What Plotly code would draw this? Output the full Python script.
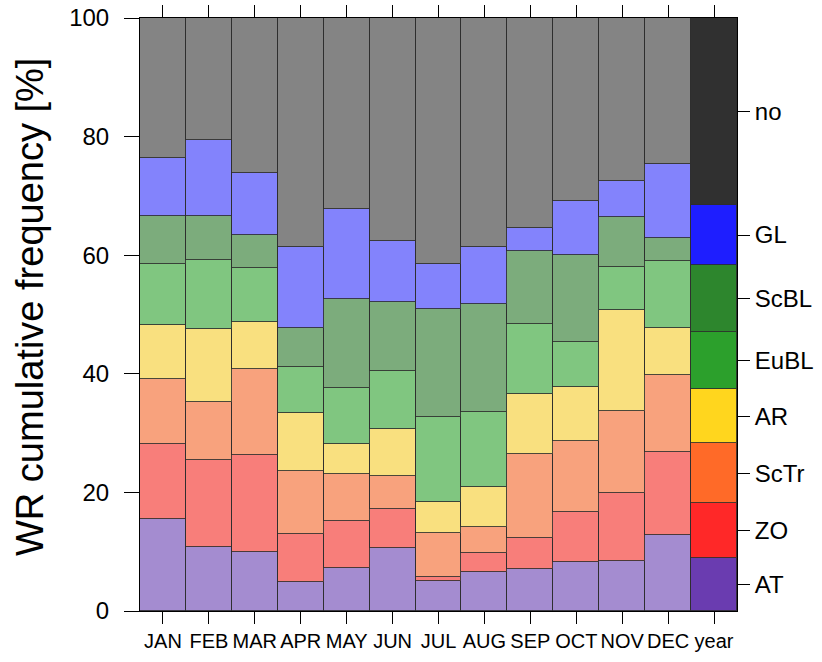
import plotly.graph_objects as go

categories = ["JAN", "FEB", "MAR", "APR", "MAY", "JUN", "JUL", "AUG", "SEP", "OCT", "NOV", "DEC", "year"]

# Frequencies [%] per weather regime (stacked from bottom to top)
AT   = [15.5, 10.8, 10.0, 4.9, 7.3, 10.6, 5.0, 6.6, 7.1, 8.3, 8.4, 12.8, 8.9]
ZO   = [12.7, 14.7, 16.3, 8.1, 7.9, 6.6, 0.8, 3.2, 5.2, 8.4, 11.5, 14.0, 9.3]
ScTr = [10.9, 9.7, 14.5, 10.6, 7.9, 5.6, 7.4, 4.4, 14.2, 12.0, 13.8, 13.0, 10.1]
AR   = [9.1, 12.4, 7.9, 9.8, 5.1, 7.9, 5.2, 6.7, 10.1, 9.1, 17.1, 7.9, 9.1]
EuBL = [10.3, 11.6, 9.2, 7.7, 9.4, 9.8, 14.3, 12.7, 11.8, 7.6, 7.2, 11.3, 9.7]
ScBL = [8.1, 7.4, 5.5, 6.6, 15.0, 11.6, 18.3, 18.2, 12.3, 14.6, 8.4, 3.9, 11.2]
GL   = [9.8, 12.8, 10.5, 13.7, 15.2, 10.3, 7.5, 9.6, 3.9, 9.1, 6.1, 12.5, 10.2]
NO   = [23.6, 20.6, 26.1, 38.6, 32.2, 37.6, 41.5, 38.6, 35.4, 30.9, 27.5, 24.6, 31.5]

regime_names = ["AT", "ZO", "ScTr", "AR", "EuBL", "ScBL", "GL", "no"]
regime_values = [AT, ZO, ScTr, AR, EuBL, ScBL, GL, NO]
month_colors = ["#A48CD0", "#F87E7A", "#F8A27D", "#F9E07F", "#80C680", "#7CAC7C", "#8383FC", "#848484"]
year_colors  = ["#6A3CB0", "#FF2828", "#FF6A28", "#FFD61E", "#2CA02C", "#2D862D", "#1E1EFF", "#303030"]

FONT = "Liberation Sans, Arial, sans-serif"

fig = go.Figure()
for name, vals, mc, yc in zip(regime_names, regime_values, month_colors, year_colors):
    colors = [mc] * (len(categories) - 1) + [yc]
    fig.add_trace(go.Bar(
        x=categories, y=vals, name=name,
        marker=dict(color=colors, line=dict(color="rgba(45,45,45,0.85)", width=1)),
        showlegend=False,
    ))

# label positions on the right: middle of each segment in the "year" column
mids = []
cum = 0.0
for vals in regime_values:
    v = vals[-1]
    mids.append(cum + v / 2.0)
    cum += v

fig.add_trace(go.Scatter(x=[categories[0]], y=[None], yaxis="y2", showlegend=False,
                         hoverinfo="skip", mode="markers"))

fig.update_layout(
    width=822, height=662,
    margin=dict(l=140, r=85, t=18, b=51),
    barmode="stack", bargap=0,
    plot_bgcolor="white", paper_bgcolor="white",
    font=dict(family=FONT, color="black"),
    xaxis=dict(
        type="category", categoryorder="array", categoryarray=categories,
        range=[-0.5, len(categories) - 0.5], automargin=False,
        showline=True, linecolor="black", linewidth=1, mirror="ticks",
        ticks="outside", ticklen=12, tickcolor="black", tickwidth=1,
        tickfont=dict(size=20, family=FONT), showgrid=False,
    ),
    yaxis=dict(
        range=[0, 100], tickvals=[0, 20, 40, 60, 80, 100], automargin=False,
        showline=True, linecolor="black", linewidth=1, mirror=True,
        ticks="outside", ticklen=15, tickcolor="black", tickwidth=1,
        ticklabelstandoff=10,
        tickfont=dict(size=24, family=FONT), showgrid=False, zeroline=False,
    ),
    yaxis2=dict(
        overlaying="y", side="right", range=[0, 100], automargin=False,
        tickvals=mids, ticktext=regime_names,
        ticks="outside", ticklen=12, tickcolor="black", tickwidth=1,
        tickfont=dict(size=24, family=FONT), showgrid=False, zeroline=False,
        showline=False,
    ),
    annotations=[dict(
        text="WR cumulative frequency [%]", textangle=-90,
        xref="paper", yref="paper", x=(30 - 140) / 597, y=(611 - 307) / 593,
        xanchor="center", yanchor="middle", showarrow=False,
        font=dict(size=38, family=FONT, color="black"),
    )],
)

fig.write_html("out.html")
